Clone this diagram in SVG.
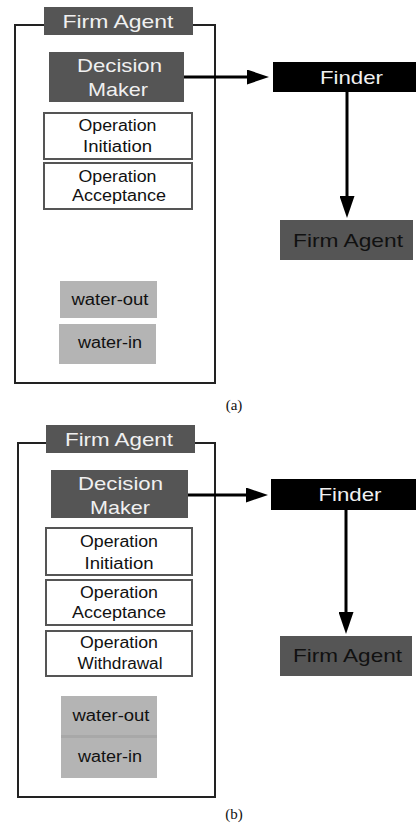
<svg xmlns="http://www.w3.org/2000/svg" width="420" height="825" viewBox="0 0 420 825">
<defs>
<style>
text{font-family:"Liberation Sans",Arial,sans-serif;text-anchor:middle}
.dark{fill:#555555}
.light{fill:#f0f0f0}
.blk{fill:#111111}
.frame{fill:none;stroke:#222;stroke-width:2}
.op{fill:#ffffff;stroke:#555555;stroke-width:2}
.water{fill:#b4b4b4}
.big{font-size:19px}
.mid{font-size:16px}
.conn{stroke:#000;stroke-width:3;fill:none}
.cap{font-family:"Liberation Serif","Times New Roman",serif;font-size:15px;fill:#111}
</style>
<marker id="ah" markerWidth="22" markerHeight="15" refX="4" refY="7.5" orient="auto" markerUnits="userSpaceOnUse">
<path d="M0,0 L22,7.5 L0,15 Z" fill="#000"/>
</marker>
</defs>
<rect width="420" height="825" fill="#ffffff"/>

<!-- Panel (a) -->
<g id="a-frame">
<path class="frame" d="M44,25 L15,25 L15,383 L215,383 L215,25 L193,25"/>
</g>
<g id="a-title">
<rect class="dark" x="44" y="7" width="149" height="28"/>
<text class="big light" x="118" y="28" textLength="111" lengthAdjust="spacingAndGlyphs">Firm Agent</text>
</g>
<g id="a-decision">
<rect class="dark" x="49" y="52" width="135" height="50"/>
<text class="big light" x="119.5" y="72" textLength="85" lengthAdjust="spacingAndGlyphs">Decision</text>
<text class="big light" x="118" y="96" textLength="60" lengthAdjust="spacingAndGlyphs">Maker</text>
</g>
<g id="a-initiation">
<rect class="op" x="44" y="113" width="148" height="46"/>
<text class="mid blk" x="117.5" y="131" textLength="78" lengthAdjust="spacingAndGlyphs">Operation</text>
<text class="mid blk" x="117.5" y="152" textLength="69" lengthAdjust="spacingAndGlyphs">Initiation</text>
</g>
<g id="a-acceptance">
<rect class="op" x="44" y="163" width="148" height="46"/>
<text class="mid blk" x="117.5" y="182" textLength="78" lengthAdjust="spacingAndGlyphs">Operation</text>
<text class="mid blk" x="119" y="201" textLength="94" lengthAdjust="spacingAndGlyphs">Acceptance</text>
</g>
<g id="a-waterout">
<rect class="water" x="60" y="281" width="97" height="37"/>
<text class="mid blk" x="110" y="305" textLength="77" lengthAdjust="spacingAndGlyphs">water-out</text>
</g>
<g id="a-waterin">
<rect class="water" x="59" y="324" width="97" height="40"/>
<text class="mid blk" x="110" y="348" textLength="64" lengthAdjust="spacingAndGlyphs">water-in</text>
</g>
<g id="a-finder">
<rect fill="#000" x="273" y="62" width="143" height="30"/>
<text class="big light" x="351.5" y="84" textLength="63" lengthAdjust="spacingAndGlyphs">Finder</text>
</g>
<g id="a-firmagent">
<rect class="dark" x="280" y="220" width="133" height="40"/>
<text class="big blk" x="348" y="247" textLength="110" lengthAdjust="spacingAndGlyphs">Firm Agent</text>
</g>
<text class="cap" x="234" y="410">(a)</text>

<!-- Panel (b) -->
<g id="b-frame">
<path class="frame" d="M46,443 L18,443 L18,797 L215,797 L215,443 L195,443"/>
</g>
<g id="b-title">
<rect class="dark" x="46" y="425" width="149" height="28"/>
<text class="big light" x="119" y="446" textLength="108" lengthAdjust="spacingAndGlyphs">Firm Agent</text>
</g>
<g id="b-decision">
<rect class="dark" x="51" y="470" width="137" height="48"/>
<text class="big light" x="120.5" y="490" textLength="85" lengthAdjust="spacingAndGlyphs">Decision</text>
<text class="big light" x="120" y="514" textLength="60" lengthAdjust="spacingAndGlyphs">Maker</text>
</g>
<g id="b-initiation">
<rect class="op" x="46" y="528" width="146" height="47"/>
<text class="mid blk" x="119" y="547" textLength="78" lengthAdjust="spacingAndGlyphs">Operation</text>
<text class="mid blk" x="119" y="569" textLength="69" lengthAdjust="spacingAndGlyphs">Initiation</text>
</g>
<g id="b-acceptance">
<rect class="op" x="46" y="580" width="146" height="45"/>
<text class="mid blk" x="119" y="598" textLength="78" lengthAdjust="spacingAndGlyphs">Operation</text>
<text class="mid blk" x="119" y="618" textLength="94" lengthAdjust="spacingAndGlyphs">Acceptance</text>
</g>
<g id="b-withdrawal">
<rect class="op" x="46" y="631" width="146" height="45"/>
<text class="mid blk" x="119" y="648" textLength="78" lengthAdjust="spacingAndGlyphs">Operation</text>
<text class="mid blk" x="120" y="669" textLength="85" lengthAdjust="spacingAndGlyphs">Withdrawal</text>
</g>
<g id="b-waterout">
<rect class="water" x="61" y="696" width="96" height="40"/>
<text class="mid blk" x="111" y="721" textLength="77" lengthAdjust="spacingAndGlyphs">water-out</text>
</g>
<g id="b-waterin">
<rect class="water" x="61" y="738" width="96" height="40"/>
<text class="mid blk" x="110" y="762" textLength="64" lengthAdjust="spacingAndGlyphs">water-in</text>
</g>
<rect x="61" y="735" width="96" height="3" fill="#a8a8a8"/>
<g id="b-finder">
<rect fill="#000" x="271" y="479" width="145" height="31"/>
<text class="big light" x="350" y="501" textLength="63" lengthAdjust="spacingAndGlyphs">Finder</text>
</g>
<g id="b-firmagent">
<rect class="dark" x="280" y="636" width="132" height="40"/>
<text class="big blk" x="347.5" y="662" textLength="109" lengthAdjust="spacingAndGlyphs">Firm Agent</text>
</g>
<text class="cap" x="234" y="819">(b)</text>

<g id="connectors">
<line class="conn" x1="184" y1="77" x2="251" y2="77" marker-end="url(#ah)"/>
<line class="conn" x1="347" y1="92" x2="347" y2="200" marker-end="url(#ah)"/>
<line class="conn" x1="188" y1="495" x2="250" y2="495" marker-end="url(#ah)"/>
<line class="conn" x1="346" y1="510" x2="346" y2="616" marker-end="url(#ah)"/>
</g>
</svg>
